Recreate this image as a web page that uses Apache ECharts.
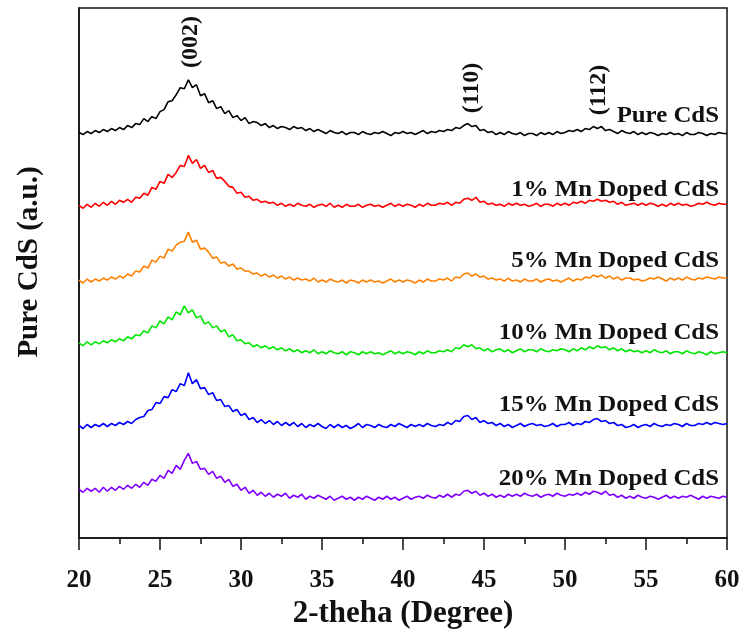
<!DOCTYPE html>
<html>
<head>
<meta charset="utf-8">
<script src="https://cdn.jsdelivr.net/npm/echarts@6/dist/echarts.min.js"></script>
<style>
  html, body { margin: 0; padding: 0; background: #fff; }
  #chart { width: 744px; height: 634px; }
</style>
</head>
<body>
<div id="chart"></div>
<script>
// 2-theta from 20 to 60, step 0.25 (161 points); intensities (stacked, a.u.)
var thetaStart = 20, thetaStep = 0.25;

var pureCdS = [
  407,405,408,406, 409,407,410,408, 411,409,412,410, 414,412,416,415, 421,418,423,421,
  428,430,438,439, 445,452,451,460, 452,455,444,446, 437,439,431,433, 426,429,422,424,
  419,422,416,418, 417,414,416,412, 414,411,413,412, 410,413,411,412, 409,411,408,410,
  408,406,409,407, 406,408,405,407, 407,405,408,406, 405,407,406,408, 406,404,407,406,
  408,406,407,405, 407,409,406,408, 407,409,408,410, 409,412,411,414, 416,413,414,409,
  410,407,408,405, 407,405,408,406, 405,407,404,406, 406,404,407,405, 407,405,408,406,
  407,409,408,410, 408,411,410,413, 411,413,409,410, 408,406,409,407, 406,408,405,407,
  405,407,406,404, 406,405,407,405, 406,404,407,405, 405,407,406,404, 406,405,407,406,
  406
];
var mn1 = [
  334,331,335,332, 336,333,337,334, 338,335,339,337, 340,337,342,341, 346,344,352,350,
  358,356,365,362, 367,374,373,384, 376,380,371,374, 367,369,361,362, 358,353,352,346,
  347,342,343,339, 340,337,338,336, 337,334,336,333, 335,333,336,334, 333,335,332,334,
  335,333,336,332, 334,332,335,333, 333,335,332,334, 335,333,334,332, 334,336,333,335,
  333,335,334,332, 335,333,336,334, 334,336,335,337, 334,337,336,340, 341,339,342,337,
  338,335,336,334, 335,333,336,334, 336,334,335,333, 334,336,333,335, 335,333,336,334,
  336,334,337,336, 338,336,339,338, 340,338,339,337, 338,335,337,334, 335,336,334,336,
  334,336,335,333, 335,333,336,334, 336,334,335,333, 334,336,335,337, 335,334,336,335,
  335
];
var mn5 = [
  259,256,260,257, 260,258,261,259, 262,260,263,261, 265,263,268,267, 273,271,279,277,
  283,281,290,288, 294,297,298,307, 297,299,290,291, 287,281,282,276, 277,273,275,270,
  271,268,268,265, 266,263,265,262, 264,261,263,260, 262,259,261,259, 260,258,261,257,
  259,257,260,258, 257,259,256,259, 258,256,259,257, 259,257,258,256, 258,260,257,259,
  257,259,258,256, 259,257,260,258, 258,260,259,261, 258,262,261,265, 266,263,265,262,
  263,260,261,259, 260,258,261,258, 259,257,260,258, 258,260,257,259, 260,258,259,257,
  259,261,258,260, 259,262,261,264, 262,264,261,263, 260,262,259,261, 261,259,260,258,
  259,261,260,262, 260,258,261,259, 261,259,262,260, 259,261,260,262, 261,260,262,261,
  261
];
var mn10 = [
  196,193,197,194, 197,195,198,196, 199,197,200,198, 202,200,204,203, 208,206,213,211,
  218,215,222,219, 227,224,233,226, 229,221,223,215, 217,211,213,207, 209,202,204,198,
  199,195,196,192, 194,191,193,190, 192,189,191,188, 190,187,189,186, 188,186,189,185,
  187,185,188,186, 185,187,184,187, 186,184,187,185, 187,185,186,184, 186,188,185,187,
  185,187,186,184, 187,185,188,186, 186,188,187,189, 187,191,190,194, 192,194,190,191,
  188,190,187,189, 190,187,189,186, 188,190,187,189, 189,187,190,188, 187,189,188,190,
  189,187,190,188, 191,189,192,190, 193,191,192,189, 191,188,190,187, 189,187,188,186,
  188,186,189,187, 186,188,185,187, 187,185,188,186, 185,187,186,184, 187,185,186,187,
  186
];
var mn15 = [
  113,110,114,111, 114,112,115,112, 115,113,116,114, 117,115,119,121, 122,128,129,136,
  135,142,141,149, 147,155,153,166, 155,159,150,151, 144,146,138,139, 132,133,127,129,
  123,125,119,121, 116,119,115,118, 114,117,113,116, 113,116,112,115, 111,114,112,115,
  112,110,114,111, 114,111,113,110, 112,115,111,114, 113,111,114,112, 111,114,112,115,
  113,111,114,112, 114,112,115,113, 112,114,113,116, 114,118,117,122, 123,119,121,116,
  118,115,116,113, 115,112,114,111, 113,115,112,114, 115,113,114,112, 113,115,112,114,
  114,116,113,115, 114,117,116,119, 120,117,118,115, 116,113,114,111, 112,114,111,113,
  114,112,115,113, 112,114,113,115, 114,112,115,113, 113,115,114,116, 114,116,115,114,
  115
];
var mn20 = [
  49,46,50,47, 50,46,51,47, 51,48,52,49, 53,50,54,51, 56,53,59,57,
  63,60,68,65, 73,69,78,85, 75,77,69,70, 64,67,60,62, 56,59,52,54,
  48,51,45,48, 43,46,42,45, 41,44,42,45, 40,43,41,44, 39,42,40,43,
  41,39,42,38, 40,42,39,41, 38,41,39,42, 40,38,41,39, 42,39,41,38,
  40,42,39,41, 42,40,43,41, 40,43,41,44, 41,44,43,47, 48,45,47,43,
  45,42,44,41, 43,41,44,42, 44,42,45,43, 42,44,41,43, 44,42,45,43,
  42,44,43,45, 43,46,44,47, 46,44,47,43, 44,41,43,40, 42,40,43,41,
  40,42,41,39, 41,43,40,42, 40,42,41,43, 41,39,42,40, 42,41,40,42,
  41
];

var seriesNames = ['Pure CdS', '1% Mn Doped CdS', '5% Mn Doped CdS', '10% Mn Doped CdS', '15% Mn Doped CdS', '20% Mn Doped CdS'];
var seriesData = [pureCdS, mn1, mn5, mn10, mn15, mn20];
var seriesColors = ['#000000', '#ff0000', '#ff8000', '#00e600', '#0000ff', '#8000ff'];
var peakNames = ['(002)', '(110)', '(112)'];

var FONT = '"Liberation Serif", "Times New Roman", serif';

function toPairs(arr) {
    var out = [];
    for (var i = 0; i < arr.length; i++) {
        out.push([thetaStart + i * thetaStep, arr[i]]);
    }
    return out;
}

var chart = echarts.init(document.getElementById('chart'));

var series = [];
for (var s = 0; s < seriesData.length; s++) {
    series.push({
        name: seriesNames[s],
        type: 'line',
        data: toPairs(seriesData[s]),
        showSymbol: false,
        symbol: 'none',
        lineStyle: { color: seriesColors[s], width: 1.6 },
        silent: true
    });
}

// curve labels (right aligned, a bit wide like the original) and peak indices
var labelY = [116, 190, 261, 333, 405, 479];
var peakPos = [[191, 42], [472, 88], [599, 90]];
var graphics = [];
for (var k = 0; k < seriesNames.length; k++) {
    graphics.push({
        type: 'text',
        x: 719, y: labelY[k],
        scaleX: 1.08,
        style: {
            text: seriesNames[k],
            x: 0, y: 0,
            textAlign: 'right', textVerticalAlign: 'middle',
            font: 'bold 23px ' + FONT, fill: '#111'
        }
    });
}
for (var p = 0; p < peakNames.length; p++) {
    graphics.push({
        type: 'text',
        x: peakPos[p][0], y: peakPos[p][1],
        rotation: Math.PI / 2,
        style: {
            text: peakNames[p],
            textAlign: 'center', textVerticalAlign: 'middle',
            font: 'bold 24px ' + FONT, fill: '#111'
        }
    });
}
// y axis title sits a little above the middle in the original
graphics.push({
    type: 'text',
    x: 30, y: 262,
    rotation: Math.PI / 2,
    style: {
        text: 'Pure CdS (a.u.)',
        textAlign: 'center', textVerticalAlign: 'middle',
        font: 'bold 29px ' + FONT, fill: '#111'
    }
});

var option = {
    animation: false,
    backgroundColor: '#fff',
    grid: {
        left: 79, right: 17, top: 8, bottom: 94,
        show: true, borderColor: '#111', borderWidth: 1.5
    },
    xAxis: {
        type: 'value',
        min: 20, max: 60, interval: 5,
        name: '2-theha (Degree)',
        nameLocation: 'middle',
        nameGap: 58,
        nameTextStyle: { fontFamily: FONT, fontWeight: 'bold', fontSize: 31, color: '#111' },
        axisLine: { show: true, lineStyle: { color: '#111', width: 1.5 } },
        axisTick: { show: true, inside: false, length: 12, lineStyle: { color: '#111', width: 1.5 } },
        minorTick: { show: true, splitNumber: 2, length: 6, lineStyle: { color: '#111', width: 1.5 } },
        axisLabel: { margin: 30, fontFamily: FONT, fontWeight: 'bold', fontSize: 25, color: '#111' },
        splitLine: { show: false }
    },
    yAxis: {
        type: 'value',
        min: 0, max: 532,
        axisLine: { show: true, lineStyle: { color: '#111', width: 1.5 } },
        axisTick: { show: false },
        axisLabel: { show: false },
        splitLine: { show: false }
    },
    series: series,
    graphic: graphics
};

chart.setOption(option);
</script>
</body>
</html>
